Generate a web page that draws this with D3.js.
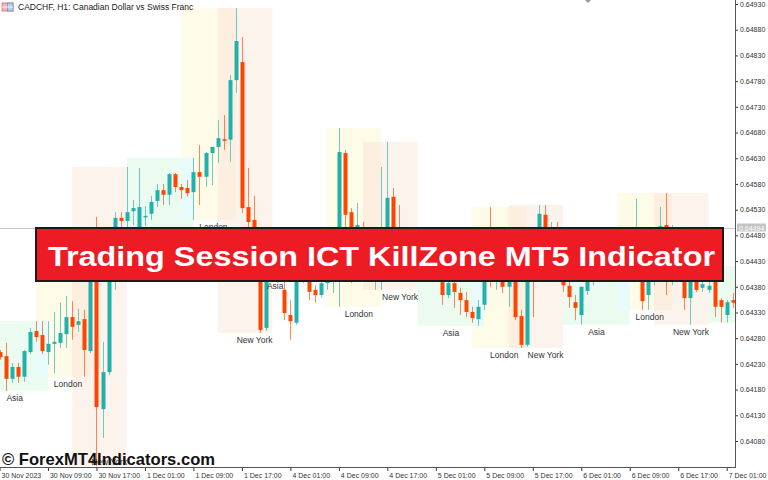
<!DOCTYPE html>
<html lang="en">
<head>
<meta charset="utf-8">
<title>CADCHF H1 - Trading Session ICT KillZone</title>
<script src="https://cdn.jsdelivr.net/npm/d3@7"></script>
<style>
  body { margin: 0; background: #fff; }
  svg { display: block; font-family: "Liberation Sans", Arial, sans-serif; }
</style>
</head>
<body>
<svg id="chart" width="768" height="480"></svg>
<script>
// CADCHF H1 candles, bar 0 = 30 Nov 01:00 (weekend bars skipped)
var open = [
  0.64253,0.64245,0.64201,0.64224,0.64205,0.64253,0.64294,0.64286,0.64253,0.64269,
  0.64271,0.64288,0.64321,0.64306,0.64317,0.64255,0.64467,0.64142,0.64214,0.64483,
  0.64514,0.64508,0.64527,0.64487,0.64516,0.64522,0.64547,0.64568,0.64559,0.64599,
  0.64574,0.64572,0.64564,0.64603,0.64594,0.64640,0.64652,0.64667,0.64666,0.64782,
  0.64817,0.64535,0.64510,0.64448,0.64300,0.64428,0.64436,0.64374,0.64325,0.64310,
  0.64397,0.64405,0.64374,0.64364,0.64387,0.64409,0.64422,0.64640,0.64525,0.64461,
  0.64494,0.64455,0.64428,0.64442,0.64487,0.64555,0.64475,0.64471,0.64417,0.64452,
  0.64428,0.64413,0.64422,0.64389,0.64364,0.64387,0.64368,0.64354,0.64331,0.64317,
  0.64345,0.64428,0.64403,0.64417,0.64380,0.64393,0.64323,0.64267,0.64452,0.64471,
  0.64520,0.64455,0.64487,0.64428,0.64382,0.64350,0.64325,0.64372,0.64403,0.64417,
  0.64428,0.64436,0.64422,0.64442,0.64452,0.64461,0.64422,0.64364,0.64413,0.64452,
  0.64500,0.64442,0.64471,0.64428,0.64358,0.64403,0.64378,0.64374,0.64393,0.64354,
  0.64325,0.64354];
var high = [
  0.64257,0.64271,0.64232,0.64232,0.64257,0.64300,0.64313,0.64313,0.64313,0.64331,
  0.64349,0.64362,0.64352,0.64337,0.64335,0.64475,0.64516,0.64273,0.64494,0.64525,
  0.64525,0.64613,0.64549,0.64611,0.64537,0.64557,0.64580,0.64580,0.64601,0.64601,
  0.64580,0.64588,0.64631,0.64656,0.64642,0.64652,0.64704,0.64714,0.64792,0.64922,
  0.64866,0.64611,0.64557,0.64461,0.64436,0.64452,0.64455,0.64389,0.64354,0.64409,
  0.64420,0.64417,0.64383,0.64397,0.64428,0.64436,0.64689,0.64646,0.64533,0.64543,
  0.64506,0.64481,0.64471,0.64613,0.64662,0.64572,0.64539,0.64490,0.64461,0.64471,
  0.64448,0.64436,0.64442,0.64413,0.64397,0.64401,0.64378,0.64370,0.64341,0.64354,
  0.64428,0.64535,0.64428,0.64432,0.64413,0.64428,0.64335,0.64442,0.64461,0.64539,
  0.64539,0.64506,0.64506,0.64452,0.64397,0.64364,0.64380,0.64417,0.64428,0.64442,
  0.64452,0.64461,0.64455,0.64471,0.64490,0.64551,0.64471,0.64422,0.64471,0.64535,
  0.64562,0.64500,0.64490,0.64452,0.64413,0.64422,0.64393,0.64420,0.64409,0.64358,
  0.64354,0.64368];
var low = [
  0.64238,0.64177,0.64193,0.64193,0.64195,0.64249,0.64273,0.64249,0.64228,0.64212,
  0.64261,0.64261,0.64277,0.64292,0.64205,0.64251,0.64031,0.64086,0.64208,0.64374,
  0.64490,0.64494,0.64500,0.64475,0.64498,0.64510,0.64535,0.64539,0.64539,0.64564,
  0.64551,0.64555,0.64510,0.64539,0.64574,0.64578,0.64621,0.64646,0.64623,0.64757,
  0.64524,0.64490,0.64436,0.64290,0.64294,0.64409,0.64395,0.64315,0.64277,0.64306,
  0.64387,0.64354,0.64349,0.64360,0.64374,0.64368,0.64341,0.64494,0.64387,0.64448,
  0.64436,0.64413,0.64374,0.64374,0.64471,0.64452,0.64428,0.64403,0.64393,0.64409,
  0.64397,0.64393,0.64395,0.64345,0.64358,0.64339,0.64325,0.64321,0.64310,0.64304,
  0.64335,0.64380,0.64374,0.64368,0.64341,0.64315,0.64261,0.64263,0.64321,0.64461,
  0.64452,0.64428,0.64413,0.64370,0.64339,0.64315,0.64306,0.64364,0.64383,0.64389,
  0.64403,0.64409,0.64401,0.64413,0.64422,0.64442,0.64335,0.64335,0.64383,0.64442,
  0.64364,0.64383,0.64413,0.64335,0.64306,0.64370,0.64370,0.64368,0.64321,0.64310,
  0.64310,0.64339];
var close = [
  0.64243,0.64201,0.64224,0.64205,0.64255,0.64292,0.64282,0.64255,0.64269,0.64273,
  0.64290,0.64321,0.64302,0.64313,0.64257,0.64467,0.64146,0.64214,0.64487,0.64514,
  0.64508,0.64525,0.64533,0.64535,0.64518,0.64545,0.64568,0.64559,0.64599,0.64574,
  0.64568,0.64562,0.64603,0.64594,0.64640,0.64652,0.64669,0.64664,0.64782,0.64858,
  0.64533,0.64506,0.64448,0.64296,0.64428,0.64436,0.64420,0.64329,0.64313,0.64393,
  0.64409,0.64370,0.64364,0.64387,0.64413,0.64428,0.64642,0.64520,0.64461,0.64500,
  0.64455,0.64428,0.64442,0.64487,0.64553,0.64475,0.64471,0.64417,0.64452,0.64428,
  0.64413,0.64422,0.64409,0.64364,0.64387,0.64370,0.64354,0.64331,0.64319,0.64341,
  0.64420,0.64403,0.64417,0.64380,0.64393,0.64321,0.64267,0.64436,0.64428,0.64522,
  0.64471,0.64487,0.64428,0.64383,0.64360,0.64339,0.64380,0.64403,0.64417,0.64428,
  0.64436,0.64422,0.64442,0.64452,0.64461,0.64487,0.64352,0.64413,0.64452,0.64498,
  0.64442,0.64471,0.64428,0.64358,0.64403,0.64374,0.64385,0.64382,0.64341,0.64341,
  0.64350,0.64349];

// kill zone sessions (first / last bar index)
var sessType  = ["Asia","London","New York","Asia","London","New York","Asia","London","New York",
                 "Asia","London","New York","Asia","London","New York","Asia"];
var sessFirst = [-3, 6, 12, 21, 30, 36, 45, 54, 60, 69, 78, 84, 93, 102, 108, 117];
var sessLast  = [ 8, 15, 21, 32, 39, 45, 46, 63, 69, 80, 87, 93, 104, 111, 117, 128];

var timeLabels = ["30 Nov 2023","30 Nov 09:00","30 Nov 17:00","1 Dec 01:00","1 Dec 09:00","1 Dec 17:00",
                  "4 Dec 01:00","4 Dec 09:00","4 Dec 17:00","5 Dec 01:00","5 Dec 09:00","5 Dec 17:00",
                  "6 Dec 01:00","6 Dec 09:00","6 Dec 17:00","7 Dec 01:00"];
var priceTicks = d3.range(0, 18).map(k => 0.64080 + k * 0.0005);
var bidPrice = 0.64494;

var plotRight = 735, plotBottom = 467;

var x = d3.scaleLinear().domain([0, 120]).range([-0.5, 726.7]);
var y = d3.scaleLinear().domain([0.64080, 0.64930]).range([441, 4]);

var fills = {"Asia": "#ebfbef", "London": "#fefbe8", "New York": "#fdf3ed"};
var overlapFill = {"Asia|London": "#e6fbfa", "London|New York": "#fcefe0"};
var labelShift = {"Asia": 0, "London": 0.8, "New York": 1.6};
var up = "#20b2aa", down = "#ff4500";
var axisFont = "Liberation Sans, Arial, sans-serif";

var svg = d3.select("#chart");

svg.append("clipPath").attr("id", "plotClip")
  .append("rect").attr("x", 0).attr("y", 0).attr("width", plotRight).attr("height", plotBottom);

var plot = svg.append("g").attr("clip-path", "url(#plotClip)");

// session boxes from the bars inside them
var last = open.length - 1;
var sessions = sessType.map(function(t, k) {
  var idx = d3.range(Math.max(0, sessFirst[k]), Math.min(last, sessLast[k]) + 1);
  return {type: t, a: sessFirst[k], b: sessLast[k],
          hi: d3.max(idx, i => high[i]), lo: d3.min(idx, i => low[i])};
});

plot.append("g").selectAll("rect")
  .data(sessions)
  .join("rect")
  .attr("x", d => x(d.a))
  .attr("y", d => y(d.hi))
  .attr("width", d => x(d.b) - x(d.a))
  .attr("height", d => y(d.lo) - y(d.hi))
  .attr("fill", d => fills[d.type]);

var overlaps = [];
sessions.forEach(function(s, k) {
  var n = sessions[k + 1];
  if (!n) return;
  var key = s.type + "|" + n.type;
  if (!overlapFill[key] || n.a >= s.b) return;
  overlaps.push({a: n.a, b: Math.min(s.b, n.b), hi: Math.min(s.hi, n.hi), lo: Math.max(s.lo, n.lo), key: key});
});

plot.append("g").selectAll("rect")
  .data(overlaps)
  .join("rect")
  .attr("x", d => x(d.a))
  .attr("y", d => y(d.hi))
  .attr("width", d => x(d.b) - x(d.a))
  .attr("height", d => Math.max(0, y(d.lo) - y(d.hi)))
  .attr("fill", d => overlapFill[d.key]);

// bid line
plot.append("line")
  .attr("x1", 0).attr("x2", plotRight)
  .attr("y1", Math.round(y(bidPrice)) + 0.5).attr("y2", Math.round(y(bidPrice)) + 0.5)
  .attr("stroke", "#c8c8c8").attr("stroke-width", 1);

// candles
var bars = plot.append("g").selectAll("g")
  .data(d3.range(open.length))
  .join("g");

bars.append("line")
  .attr("x1", i => Math.round(x(i)) + 0.5)
  .attr("x2", i => Math.round(x(i)) + 0.5)
  .attr("y1", i => y(high[i]))
  .attr("y2", i => y(low[i]))
  .attr("stroke", i => close[i] >= open[i] ? up : down)
  .attr("stroke-opacity", 0.65)
  .attr("stroke-width", 1);

bars.append("rect")
  .attr("x", i => Math.round(x(i)) - 1.5)
  .attr("width", 4)
  .attr("y", i => y(Math.max(open[i], close[i])))
  .attr("height", i => Math.max(1.5, Math.abs(y(open[i]) - y(close[i]))))
  .attr("fill", i => close[i] >= open[i] ? up : down);

// session labels (kept inside the plot like the terminal does)
plot.append("g").selectAll("text")
  .data(sessions.filter(d => x((d.a + d.b) / 2) < plotRight))
  .join("text")
  .attr("x", d => x((d.a + d.b) / 2 + labelShift[d.type]))
  .attr("y", d => Math.min(y(d.lo) + 10, plotBottom - 2))
  .attr("text-anchor", "middle")
  .attr("font-size", "8.5px")
  .attr("fill", "#333")
  .text(d => d.type);

// axes
var yAxis = d3.axisRight(y)
  .tickValues(priceTicks)
  .tickFormat(d3.format(".5f"))
  .tickSize(3)
  .tickPadding(2);

var yg = svg.append("g")
  .attr("transform", "translate(" + plotRight + ",0)")
  .call(yAxis);
yg.select(".domain").remove();
yg.selectAll("text").attr("font-size", "7px").attr("fill", "#333").attr("font-family", axisFont);
yg.selectAll("line").attr("stroke", "#333");

var xAxis = d3.axisBottom(x)
  .tickValues(d3.range(0, 121, 8))
  .tickFormat(i => timeLabels[i / 8])
  .tickSize(4)
  .tickPadding(2);

var xg = svg.append("g")
  .attr("transform", "translate(0," + plotBottom + ")")
  .call(xAxis);
xg.select(".domain").remove();
xg.selectAll("text")
  .attr("text-anchor", "start")
  .attr("dx", "1.5")
  .attr("font-size", "7px").attr("fill", "#333")
  .attr("font-family", axisFont);
xg.selectAll("line").attr("stroke", "#333");

svg.append("line").attr("x1", plotRight + 0.5).attr("x2", plotRight + 0.5)
  .attr("y1", 0).attr("y2", plotBottom + 1).attr("stroke", "#555");
svg.append("line").attr("x1", 0).attr("x2", plotRight + 1)
  .attr("y1", plotBottom + 0.5).attr("y2", plotBottom + 0.5).attr("stroke", "#555");

// bid label on the price scale
var by = Math.round(y(bidPrice));
svg.append("rect").attr("x", plotRight + 2).attr("y", by - 4.5).attr("width", 29).attr("height", 8).attr("fill", "#c4c4c4");
svg.append("text").attr("x", plotRight + 4).attr("y", by + 2.5).attr("font-size", "7px").attr("fill", "#fff")
  .attr("font-family", axisFont)
  .text(bidPrice.toFixed(5));

// chart shift marker
svg.append("path").attr("d", "M585,0 L591,0 L588,3 Z").attr("fill", "#999");

// title
var icon = svg.append("g").attr("transform", "translate(2,3)");
icon.append("rect").attr("width", 11).attr("height", 8).attr("fill", "#f2b8b8").attr("stroke", "#e06060").attr("stroke-width", 0.8);
icon.append("rect").attr("x", 5.5).attr("width", 5.5).attr("height", 8).attr("fill", "#b8cdf0").attr("stroke", "#6a8fd0").attr("stroke-width", 0.8);
icon.append("line").attr("x1", 0).attr("x2", 11).attr("y1", 4).attr("y2", 4).attr("stroke", "#fff").attr("stroke-width", 0.8);
svg.append("text").attr("x", 18).attr("y", 10).attr("font-size", "8.5px").attr("fill", "#222")
  .text("CADCHF, H1:  Canadian Dollar vs Swiss Franc");

// banner
svg.append("rect").attr("x", 36).attr("y", 228).attr("width", 687).attr("height", 53)
  .attr("fill", "#ed1c24").attr("stroke", "#1b1b1b").attr("stroke-width", 2);
svg.append("text").attr("x", 381.5).attr("y", 266)
  .attr("text-anchor", "middle")
  .attr("font-size", "28px").attr("font-weight", "bold").attr("fill", "#fff")
  .attr("textLength", 667).attr("lengthAdjust", "spacingAndGlyphs")
  .text("Trading Session ICT KillZone MT5 Indicator");

// watermark
svg.append("text").attr("x", 2).attr("y", 465)
  .attr("font-size", "17px").attr("font-weight", "900").attr("fill", "#111")
  .attr("textLength", 213).attr("lengthAdjust", "spacingAndGlyphs")
  .text("\u00a9 ForexMT4Indicators.com");
</script>
</body>
</html>
